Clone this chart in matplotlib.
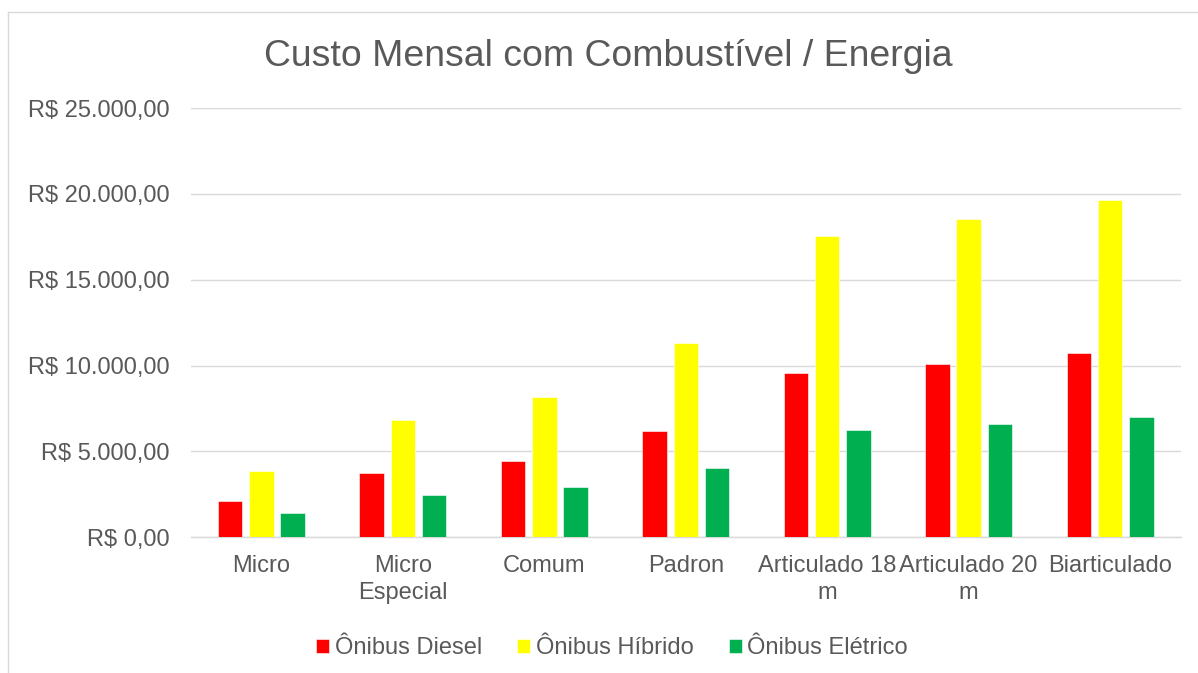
import numpy as np
import matplotlib
matplotlib.use("Agg")
import matplotlib.pyplot as plt
from matplotlib.ticker import FuncFormatter

# data
categories = ["Micro", "Micro\nEspecial", "Comum", "Padron",
              "Articulado 18\nm", "Articulado 20\nm", "Biarticulado"]
series_names = ["Ônibus Diesel", "Ônibus Híbrido", "Ônibus Elétrico"]
diesel = [2120, 3730, 4450, 6180, 9560, 10100, 10720]
hibrido = [3880, 6840, 8160, 11310, 17540, 18510, 19660]
eletrico = [1400, 2450, 2930, 4040, 6250, 6600, 7030]
colors = ["#FF0000", "#FFFF00", "#00B050"]
yticks = [0, 5000, 10000, 15000, 20000, 25000]

plt.rcParams['font.family'] = ['Liberation Sans', 'DejaVu Sans']
txt = "#595959"
grid = "#D9D9D9"

fig = plt.figure(figsize=(11.98, 6.73), dpi=100)
ax = fig.add_axes([0.1592, 0.2016, 0.8264, 0.6379])

x = np.arange(len(categories))
w = 0.173
step = 0.221
for i, (vals, c, name) in enumerate(zip([diesel, hibrido, eletrico], colors, series_names)):
    ax.bar(x + (i - 1) * step, vals, width=w, color=c, label=name,
           edgecolor="white", linewidth=0.4, zorder=3)

ax.set_xlim(-0.5, len(categories) - 0.5)
ax.set_ylim(0, 25000)
ax.set_yticks(yticks)


def brl(v, pos):
    s = f"{v:,.2f}".replace(",", "X").replace(".", ",").replace("X", ".")
    return "R$ " + s


ax.yaxis.set_major_formatter(FuncFormatter(brl))
ax.set_xticks(x)
ax.set_xticklabels(categories, linespacing=1.25)
ax.tick_params(axis="y", length=0, pad=15, labelsize=17, labelcolor=txt)
ax.tick_params(axis="x", length=0, pad=13, labelsize=17, labelcolor=txt)
ax.grid(axis="y", color=grid, linewidth=1.0, zorder=0)
for s in ["top", "right", "left"]:
    ax.spines[s].set_visible(False)
ax.spines["bottom"].set_color(grid)
ax.spines["bottom"].set_linewidth(1.0)

fig.text(0.508, 1 - 66 / 673, "Custo Mensal com Combustível / Energia",
         ha="center", va="baseline", fontsize=26.9, color=txt)

leg = fig.legend(loc="center", bbox_to_anchor=(0.511, 0.037), ncol=3,
                 frameon=False, fontsize=17, handlelength=0.55, handleheight=0.55,
                 handletextpad=0.25, columnspacing=1.47, labelcolor=txt)

# outer chart border (left and top visible)
fig.add_artist(plt.Line2D([8 / 1198, 8 / 1198], [0, 1 - 12 / 673],
                          transform=fig.transFigure, color=grid, linewidth=1.0))
fig.add_artist(plt.Line2D([8 / 1198, 1], [1 - 12 / 673, 1 - 12 / 673],
                          transform=fig.transFigure, color=grid, linewidth=1.0))

fig.savefig("out.png", dpi=100)
